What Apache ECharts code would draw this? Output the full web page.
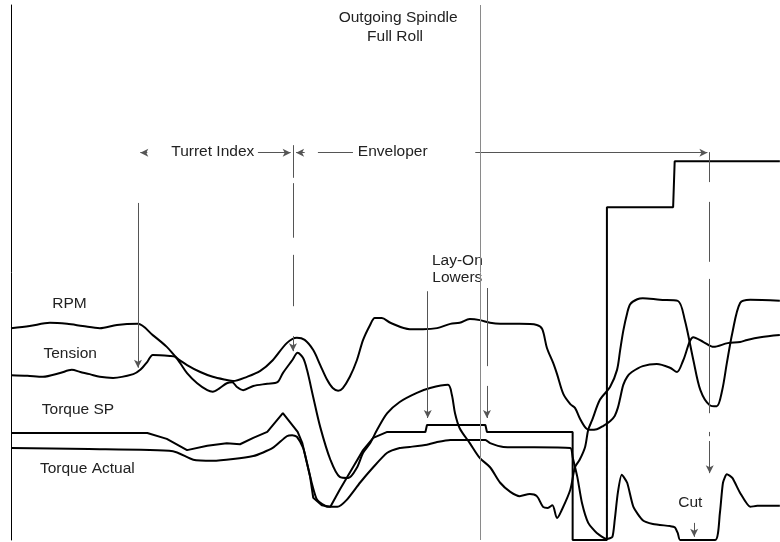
<!DOCTYPE html>
<html>
<head>
<meta charset="utf-8">
<script src="https://cdn.jsdelivr.net/npm/echarts/dist/echarts.min.js"></script>
<style>html,body{margin:0;padding:0;background:#fff}#c{width:780px;height:542px}</style>
</head>
<body>
<div id="c"></div>
<script>
// ---- trace data: [time, level] ----
const rpmSeries = [[0,39.6],[2.4,40.0],[5.0,40.6],[7.2,40.4],[9.2,40.0],[11.4,39.6],[13.6,40.2],[16.3,40.4],[18.2,38.3],[20.0,36.1],[21.3,34.0],[22.6,32.7],[24.3,31.4],[25.9,30.5],[27.7,29.9],[28.5,29.7],[30.3,30.5],[32.0,31.6],[33.6,33.6],[35.4,36.8],[36.7,37.8],[37.7,37.4],[38.8,35.5],[39.7,32.7],[40.6,29.9],[41.3,28.4],[42.0,27.9],[42.6,28.4],[43.5,30.5],[44.4,33.6],[45.2,37.4],[46.1,40.2],[46.7,41.5],[47.6,41.5],[48.7,40.6],[51.2,39.4],[52.9,39.4],[54.7,39.6],[56.4,40.4],[57.6,40.6],[58.9,41.3],[60.2,41.1],[61.5,40.6],[62.8,40.4],[65.3,40.4],[67.5,40.2],[68.2,39.4],[68.8,35.9],[69.6,33.1],[70.1,31.0],[70.9,27.3],[71.8,25.4],[72.4,24.7],[73.0,22.8],[73.8,20.9],[74.3,20.6],[75.2,20.7],[76.0,21.3],[76.9,22.2],[77.5,23.2],[77.9,24.7],[78.2,26.5],[78.6,29.0],[79.1,30.5],[79.7,31.4],[81.1,32.5],[82.9,32.9],[84.6,32.2],[85.5,31.4],[86.3,33.6],[87.6,37.9],[88.9,37.0],[90.2,36.1],[92.0,36.8],[93.6,37.0],[94.5,37.4],[96.2,37.9],[98.7,38.3]];
const tensionSeries = [[0,30.8],[2.1,30.7],[4.1,30.5],[6.3,31.2],[7.8,31.8],[8.9,31.4],[10.1,31.0],[11.4,30.5],[13.1,30.3],[15.7,31.0],[16.6,31.8],[17.5,33.3],[18.2,34.6],[20.4,34.4],[21.1,34.2],[21.7,33.1],[22.6,31.2],[23.9,29.3],[25.2,28.0],[25.9,27.7],[26.8,28.4],[27.7,29.3],[28.4,29.5],[29.0,28.6],[29.8,28.0],[31.1,28.8],[32.9,29.2],[34.2,29.5],[34.9,31.2],[36.1,33.6],[36.8,35.0],[37.5,34.0],[38.0,31.8],[38.8,26.7],[39.7,21.1],[41.0,15.0],[42.2,11.8],[43.3,11.6],[44.4,13.5],[45.2,16.3],[46.1,18.1],[47.0,20.6],[48.3,23.7],[49.9,25.8],[52.1,27.5],[53.8,28.4],[56.1,29.0],[56.6,27.1],[57.0,23.7],[57.6,20.9],[58.9,18.1],[60.2,15.3],[61.5,13.6],[62.8,10.7],[64.1,9.0],[65.3,8.2],[66.6,8.6],[67.5,8.2],[68.3,6.2],[68.9,6.0],[69.5,6.5],[70.1,4.1],[70.7,5.6],[71.8,9.4],[72.4,13.6],[73.0,15.0],[73.7,17.4],[74.1,20.6],[74.6,22.4],[75.6,26.2],[76.9,28.6],[77.8,31.8],[78.2,35.5],[78.6,39.1],[79.1,42.4],[79.5,44.1],[80.4,45.0],[81.1,45.2],[83.3,44.9],[85.6,44.7],[86.5,41.1],[87.6,33.6],[88.5,28.0],[89.7,25.2],[90.6,25.0],[91.3,28.0],[91.9,33.1],[92.6,38.7],[93.6,44.3],[94.9,44.9],[98.7,44.7]];
const torqueSpSeries = [[0,20.0],[17.5,20.0],[20.0,18.9],[22.6,16.8],[25.2,17.6],[27.7,18.1],[29.4,17.9],[31.1,19.1],[32.9,20.2],[34.9,23.7],[36.8,20.2],[37.4,18.1],[38.4,11.8],[38.8,7.9],[39.9,6.5],[41.0,6.2],[42.2,9.4],[43.9,13.6],[45.2,16.8],[46.5,19.1],[48.3,20.2],[53.2,20.2],[53.4,21.5],[60.9,21.5],[61.1,20.2],[72.1,20.2],[72.1,0],[76.5,0],[76.5,62.2],[85.0,62.2],[85.2,70.8],[98.7,70.8]];
const torqueActualSeries = [[0,17.2],[10,17.0],[20.8,16.6],[23.4,15.0],[25.9,14.8],[31.1,15.7],[33.6,17.2],[35.4,19.4],[36.1,19.6],[36.7,19.3],[37.5,17.2],[38.0,14.4],[38.6,10.7],[39.3,7.5],[40.7,6.2],[41.9,6.2],[43.1,7.5],[44.8,10.7],[46.5,13.6],[48.3,16.3],[49.9,17.2],[51.2,17.4],[53.4,17.8],[54.7,18.3],[56.4,18.7],[60.9,18.7],[61.5,18.1],[63.2,17.4],[71.8,17.2],[72.1,15.5],[72.7,11.8],[73.3,6.9],[74.1,3.2],[75.2,1.3],[76.5,0.2],[77.2,0.6],[77.5,3.7],[77.9,8.8],[78.4,12.2],[79.1,10.7],[79.9,6.2],[81.1,3.7],[82.4,3.0],[84.6,2.6],[85.2,2.4],[85.6,1.3],[85.9,0],[90.4,0],[91.0,5.0],[91.4,10.7],[91.9,12.3],[92.6,11.6],[93.6,8.8],[94.9,6.2],[95.8,6.4],[98.7,6.4]];

// ---- event markers: vertical segments [time, fromLevel, toLevel, arrowAtEnd] ----
const markerSegments = [
  [16.3,63.0,32.2,1],
  [36.2,73.8,67.7,0],[36.2,66.7,56.5,0],[36.2,53.3,43.7,0],[36.2,38.1,35.3,1],
  [89.7,72.5,66.9,0],[89.7,63.2,52.0,0],[89.7,48.8,23.7,0],[89.7,20.2,19.4,0],[89.7,18.5,12.5,1],
  [53.5,46.5,22.8,1],
  [61.1,47.1,32.5,0],[61.1,28.8,22.8,1],
  [87.7,3.2,0.6,1]
];
// ---- span arrows at one level: [fromTime, toTime, arrowAtEnd] ----
const spanLevel = 72.4;
const spanArrows = [[17.5,16.6,1],[31.7,35.9,1],[37.7,36.6,1],[39.4,43.9,0],[59.6,89.4,1]];
const fullRollTime = 60.2;

// ---- text labels: [text, time, level] ----
const labelTexts = [
  ['Outgoing Spindle',49.7,97.6],['Full Roll',49.3,94.0],
  ['Turret Index',25.9,72.5],['Enveloper',49.0,72.5],
  ['Lay-On',57.3,52.2],['Lowers',57.3,49.0],
  ['RPM',7.5,44.1],['Tension',7.6,34.8],['Torque SP',8.6,24.3],['Torque Actual',9.8,13.3],
  ['Cut',87.2,6.9]
];

const chart = echarts.init(document.getElementById('c'), null, {renderer:'canvas'});

const thin = {color:'#555', width:1, type:'solid'};
const mlData = [];
markerSegments.forEach(s => mlData.push([
  {coord:[s[0],s[1]], symbol:'none'},
  {coord:[s[0],s[2]], symbol: s[3] ? 'arrow' : 'none', lineStyle: thin}
]));
spanArrows.forEach(s => mlData.push([
  {coord:[s[0],spanLevel], symbol:'none'},
  {coord:[s[1],spanLevel], symbol: s[2] ? 'arrow' : 'none', lineStyle: thin}
]));
mlData.push([
  {coord:[fullRollTime,100], symbol:'none'},
  {coord:[fullRollTime,0], symbol:'none', lineStyle:{color:'#8a8a8a', width:1, type:'solid'}}
]);

const traceStyle = {color:'#000', width:2};
function trace(name, data, smooth) {
  return {name, type:'line', data, symbol:'none', smooth, clip:false,
    lineStyle: traceStyle, itemStyle:{color:'#000'}, silent:true, animation:false};
}

chart.setOption({
  animation:false,
  backgroundColor:'#fff',
  grid:{left:11, right:0, top:5, bottom:2},
  xAxis:{type:'value', min:0, max:98.72, axisLine:{show:false}, axisTick:{show:false}, axisLabel:{show:false}, splitLine:{show:false}},
  yAxis:{type:'value', min:0, max:100, axisLine:{show:true, lineStyle:{color:'#000', width:1}}, axisTick:{show:false}, axisLabel:{show:false}, splitLine:{show:false}},
  series:[
    trace('RPM', rpmSeries, 0.3),
    trace('Tension', tensionSeries, 0.3),
    trace('Torque SP', torqueSpSeries, false),
    trace('Torque Actual', torqueActualSeries, 0.2),
    {type:'line', data:[], silent:true,
     markLine:{silent:true, animation:false, symbolSize:[6,8], label:{show:false},
       lineStyle:thin, emphasis:{disabled:true}, data:mlData}}
  ]
});

const graphics = labelTexts.map(l => {
  const p = chart.convertToPixel({xAxisIndex:0, yAxisIndex:0}, [l[1], l[2]]);
  return {type:'text', x:p[0], y:p[1], silent:true,
    style:{text:l[0], fill:'#222', font:'15.5px "Liberation Sans", Arial, sans-serif',
      textAlign:'center', textVerticalAlign:'middle', verticalAlign:'middle'}};
});
chart.setOption({graphic:graphics});
</script>
</body>
</html>
